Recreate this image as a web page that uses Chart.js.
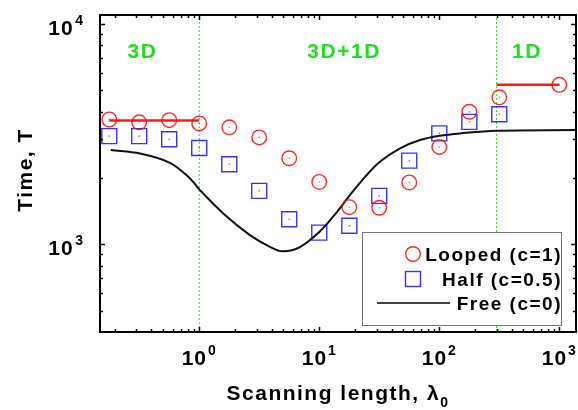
<!DOCTYPE html>
<html lang="en">
<head>
<meta charset="UTF-8">
<title>Time vs scanning length</title>
<script src="https://cdn.jsdelivr.net/npm/chart.js"></script>
<style>
  body { margin: 0; background: #fff; }
  canvas { display: block; }
</style>
</head>
<body>
<canvas id="myChart" width="578" height="410"></canvas>
<script>
  // values
  const loopedLambda = [0.178, 0.316, 0.562, 1, 1.78, 3.16, 5.62, 10, 17.8, 31.6, 56.2, 100, 178, 316, 1000];
  const loopedT = [3690, 3580, 3665, 3540, 3400, 3060, 2460, 1920, 1475, 1466, 1910, 2770, 4000, 4650, 5300];

  const halfLambda = [0.178, 0.316, 0.562, 1, 1.78, 3.16, 5.62, 10, 17.8, 31.6, 56.2, 100, 178, 316];
  const halfT = [3100, 3100, 3000, 2740, 2310, 1750, 1300, 1130, 1215, 1660, 2400, 3190, 3600, 3900];

  const freeLambda = [0.183, 0.321, 0.57, 0.837, 1, 1.585, 2.645, 3.88, 4.98, 6.9, 9.94, 13.6, 18.0, 24.0, 32.0, 47.1, 69.2, 101, 149, 297, 1377];
  const freeT = [2680, 2585, 2346, 1993, 1777, 1382, 1102, 975, 930, 972, 1134, 1373, 1674, 2021, 2371, 2729, 2975, 3111, 3190, 3280, 3302];

  // red plateau segments (3D and 1D limits)
  const plateau3DLambda = [0.178, 1];
  const plateau3DT = [3650, 3650];
  const plateau1DLambda = [300, 1000];
  const plateau1DT = [5300, 5300];

  // regime boundaries and labels
  const boundaries = [1, 300];
  const regionNames = ['3D', '3D+1D', '1D'];
  const regionLambda = [0.336, 16.1, 537];
  const regionT = 7470;

  const legendLabels = ['Looped (c=1)', 'Half (c=0.5)', 'Free (c=0)'];

  // axes
  const xRange = [0.149, 1377];
  const yRange = [400, 11000];
  const xMajor = [1, 10, 100, 1000];
  const yMajor = [1000, 10000];

  const pts = (xs, ys) => xs.map((x, i) => ({ x: x, y: Array.isArray(ys) ? ys[i] : ys }));

  const minorTicks = (lo, hi) => {
    const out = [];
    for (let e = -2; e <= 5; e++) {
      for (let m = 1; m < 10; m++) {
        const v = m * Math.pow(10, e);
        if (v > lo && v < hi) out.push(v);
      }
    }
    return out;
  };

  const GREEN = '#1ee01e';
  const FONT = '"Liberation Sans", Arial, sans-serif';

  const framePlugin = {
    id: 'frame',
    afterDraw(chart) {
      const { ctx, chartArea: a, scales: { x, y } } = chart;
      ctx.save();

      // inward ticks on all sides
      ctx.strokeStyle = '#000';
      ctx.lineWidth = 1.5;
      ctx.beginPath();
      minorTicks(xRange[0], xRange[1]).forEach(v => {
        const px = Math.round(x.getPixelForValue(v)) + 0.5;
        const len = xMajor.includes(v) ? 5 : 3;
        ctx.moveTo(px, a.bottom); ctx.lineTo(px, a.bottom - len);
        ctx.moveTo(px, a.top); ctx.lineTo(px, a.top + len);
      });
      minorTicks(yRange[0], yRange[1]).forEach(v => {
        const py = Math.round(y.getPixelForValue(v)) + 0.5;
        const len = yMajor.includes(v) ? 5 : 3;
        ctx.moveTo(a.left, py); ctx.lineTo(a.left + len, py);
        ctx.moveTo(a.right, py); ctx.lineTo(a.right - len, py);
      });
      ctx.stroke();

      // frame
      ctx.lineWidth = 2;
      ctx.strokeRect(a.left, a.top, a.right - a.left, a.bottom - a.top);

      // tick labels 10^n
      ctx.fillStyle = '#000';
      ctx.letterSpacing = '1px';
      const baseFont = 'bold 21px ' + FONT;
      const supFont = 'bold 14px ' + FONT;
      xMajor.forEach(v => {
        const px = x.getPixelForValue(v);
        const ex = String(Math.round(Math.log10(v)));
        ctx.font = baseFont;
        const w1 = ctx.measureText('10').width;
        ctx.font = supFont;
        const w2 = ctx.measureText(ex).width;
        const start = px - (w1 + 1 + w2) / 2;
        ctx.textAlign = 'left';
        ctx.font = baseFont;
        ctx.fillText('10', start, a.bottom + 33);
        ctx.font = supFont;
        ctx.fillText(ex, start + w1 + 1, a.bottom + 23);
      });
      yMajor.forEach(v => {
        const py = y.getPixelForValue(v);
        const ex = String(Math.round(Math.log10(v)));
        ctx.font = supFont;
        const w2 = ctx.measureText(ex).width;
        ctx.textAlign = 'left';
        ctx.fillText(ex, 84 - w2, py + 1);
        ctx.font = baseFont;
        ctx.textAlign = 'right';
        ctx.fillText('10', 84 - w2 - 1.5, py + 11);
      });

      // axis titles
      ctx.letterSpacing = '1.5px';
      const xt = 'Scanning length, \u03bb';
      ctx.font = 'bold 14px ' + FONT;
      const subW = ctx.measureText('0').width;
      ctx.font = 'bold 21px ' + FONT;
      const xtW = ctx.measureText(xt).width;
      const cx = (a.left + a.right) / 2;
      ctx.textAlign = 'left';
      ctx.fillText(xt, cx - (xtW + subW) / 2, 400);
      ctx.font = 'bold 14px ' + FONT;
      ctx.fillText('0', cx - (xtW + subW) / 2 + xtW, 407);

      ctx.save();
      ctx.translate(32, 170);
      ctx.rotate(-Math.PI / 2);
      ctx.font = 'bold 21px ' + FONT;
      ctx.textAlign = 'center';
      ctx.fillText('Time, T', 0, 0);
      ctx.restore();

      // regime labels
      ctx.fillStyle = GREEN;
      ctx.font = 'bold 21px ' + FONT;
      ctx.textAlign = 'center';
      ctx.textBaseline = 'middle';
      regionNames.forEach((name, i) => {
        ctx.fillText(name, x.getPixelForValue(regionLambda[i]), y.getPixelForValue(regionT));
      });

      // legend box
      ctx.textBaseline = 'alphabetic';
      const lx = 362, ly = 232, lw = 199, lh = 93;
      ctx.fillStyle = '#fff';
      ctx.fillRect(lx, ly, lw, lh);
      ctx.strokeStyle = '#777';
      ctx.lineWidth = 1;
      ctx.strokeRect(lx + 0.5, ly + 0.5, lw, lh);
      const rows = [254, 279, 303];
      ctx.fillStyle = '#000';
      ctx.font = 'bold 19px ' + FONT;
      ctx.letterSpacing = '1.5px';
      ctx.textAlign = 'right';
      legendLabels.forEach((t, i) => ctx.fillText(t, 562, rows[i] + 7));
      ctx.lineWidth = 1.4;
      ctx.strokeStyle = 'rgba(255,0,0,0.85)';
      ctx.beginPath();
      ctx.arc(413, rows[0], 7.3, 0, Math.PI * 2);
      ctx.stroke();
      ctx.strokeStyle = 'rgba(0,0,255,0.8)';
      ctx.strokeRect(405.5, rows[1] - 7.5, 15, 15);
      ctx.strokeStyle = '#000';
      ctx.lineWidth = 1.5;
      ctx.beginPath();
      ctx.moveTo(377, rows[2]); ctx.lineTo(450, rows[2]);
      ctx.stroke();

      ctx.restore();
    }
  };

  const ctx = document.getElementById('myChart').getContext('2d');
  new Chart(ctx, {
    type: 'scatter',
    data: {
      datasets: [
        {
          label: 'looped dots',
          data: pts(loopedLambda, loopedT),
          pointRadius: 0.8,
          pointBackgroundColor: 'rgba(255,0,0,0.6)',
          pointBorderWidth: 0
        },
        {
          label: 'half dots',
          data: pts(halfLambda, halfT),
          pointRadius: 0.8,
          pointBackgroundColor: 'rgba(0,0,255,0.6)',
          pointBorderWidth: 0
        },
        {
          label: legendLabels[0],
          data: pts(loopedLambda, loopedT),
          pointStyle: 'circle',
          pointRadius: 7.3,
          pointBorderWidth: 1.4,
          pointBorderColor: 'rgba(255,0,0,0.85)',
          pointBackgroundColor: 'rgba(0,0,0,0)'
        },
        {
          label: legendLabels[1],
          data: pts(halfLambda, halfT),
          pointStyle: 'rect',
          pointRadius: 10.6,
          pointBorderWidth: 1.4,
          pointBorderColor: 'rgba(0,0,255,0.8)',
          pointBackgroundColor: 'rgba(0,0,0,0)'
        },
        {
          label: 'plateau 3D',
          data: pts(plateau3DLambda, plateau3DT),
          showLine: true,
          borderColor: '#ff1a1a',
          borderWidth: 2.5,
          pointRadius: 0
        },
        {
          label: 'plateau 1D',
          data: pts(plateau1DLambda, plateau1DT),
          showLine: true,
          borderColor: '#ff1a1a',
          borderWidth: 2.5,
          pointRadius: 0
        },
        {
          label: legendLabels[2],
          data: pts(freeLambda, freeT),
          showLine: true,
          borderColor: '#111',
          borderWidth: 2,
          pointRadius: 0,
          tension: 0.35
        },
        ...boundaries.map(b => ({
          label: 'boundary',
          data: pts([b, b], yRange),
          showLine: true,
          borderColor: GREEN,
          borderWidth: 1,
          borderDash: [2, 2],
          pointRadius: 0
        }))
      ]
    },
    options: {
      responsive: false,
      animation: false,
      layout: { autoPadding: false, padding: { left: 100, right: 2, top: 15, bottom: 78 } },
      scales: {
        x: { type: 'logarithmic', min: xRange[0], max: xRange[1], bounds: 'data', display: false },
        y: { type: 'logarithmic', min: yRange[0], max: yRange[1], bounds: 'data', display: false }
      },
      plugins: {
        legend: { display: false },
        tooltip: { enabled: false }
      }
    },
    plugins: [framePlugin]
  });
</script>
</body>
</html>
